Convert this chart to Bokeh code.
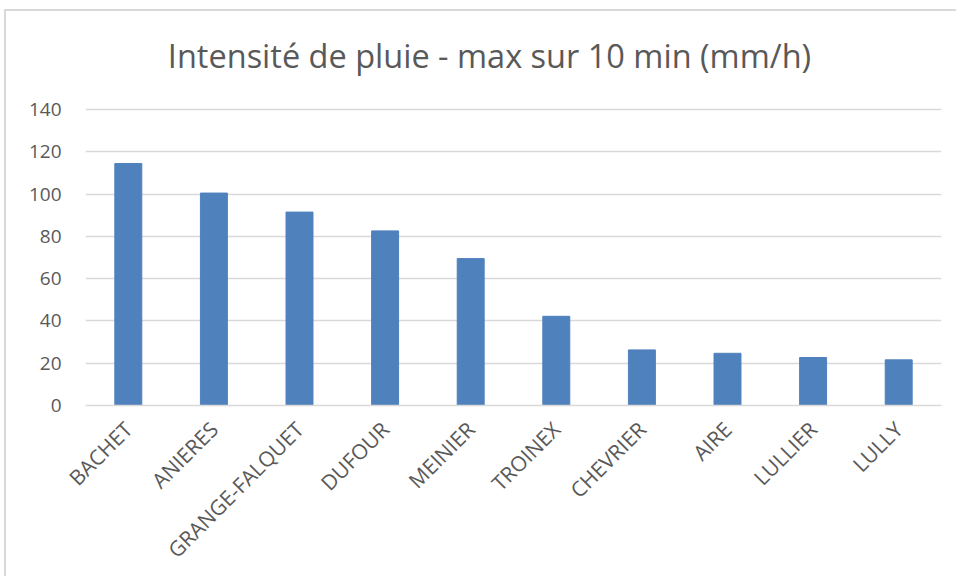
import math
from bokeh.plotting import figure
from bokeh.models import Range1d, FixedTicker, ColumnDataSource
from bokeh.core.properties import value
from bokeh.embed import file_html
from bokeh.resources import INLINE

stations = ["BACHET", "ANIERES", "GRANGE-FALQUET", "DUFOUR", "MEINIER",
            "TROINEX", "CHEVRIER", "AIRE", "LULLIER", "LULLY"]
intensity = [114.5, 100.5, 91.5, 82.6, 69.5, 42.2, 26.3, 24.7, 22.7, 21.6]
y_ticks = [0, 20, 40, 60, 80, 100, 120, 140]
title_text = "Intensité de pluie - max sur 10 min (mm/h)"

FONT = "Open Sans"
GREY_TXT = "#595959"

# The frame reaches up to the top of the chart box so the title can sit in it;
# the value axis only shows ticks/gridlines 0..140.
Y_TOP = 186.4
TITLE_X = 4.72
TITLE_Y = 165.5

src = ColumnDataSource(dict(station=stations, value=intensity))

p = figure(x_range=stations, y_range=Range1d(0, Y_TOP),
           width=952, height=567, output_backend="svg", toolbar_location=None,
           min_border_left=79, min_border_right=17, min_border_top=0,
           min_border_bottom=173)
p.styles = {"margin-left": "4px", "margin-top": "9px",
            "border-left": "2px solid #d9d9d9", "border-top": "2px solid #d9d9d9"}
p.title = None

p.vbar(x="station", top="value", width=0.315, source=src,
       fill_color="#4f81bd", line_color="#4f81bd")

p.text(x=[TITLE_X], y=[TITLE_Y], text=[title_text],
       text_align="center", text_baseline="alphabetic",
       text_font=value(FONT), text_font_size="32.5px", text_color=GREY_TXT)

p.outline_line_color = None
p.xgrid.grid_line_color = None
p.ygrid.grid_line_color = "#d9d9d9"
p.ygrid.grid_line_width = 1.5

p.yaxis.ticker = FixedTicker(ticks=y_ticks)
p.yaxis.axis_line_color = None
p.yaxis.major_tick_line_color = None
p.yaxis.minor_tick_line_color = None
p.yaxis.major_tick_out = 0
p.yaxis.major_label_standoff = 24
p.yaxis.major_label_text_font = FONT
p.yaxis.major_label_text_font_size = "19px"
p.yaxis.major_label_text_color = GREY_TXT

p.xaxis.axis_line_color = "#d9d9d9"
p.xaxis.axis_line_width = 1.5
p.xaxis.major_tick_line_color = None
p.xaxis.major_tick_out = 0
p.xaxis.major_label_orientation = math.pi / 4
p.xaxis.major_label_standoff = 20
p.xaxis.major_label_text_font = FONT
p.xaxis.major_label_text_font_size = "21px"
p.xaxis.major_label_text_color = GREY_TXT

open("out.html", "w").write(file_html(p, INLINE))
